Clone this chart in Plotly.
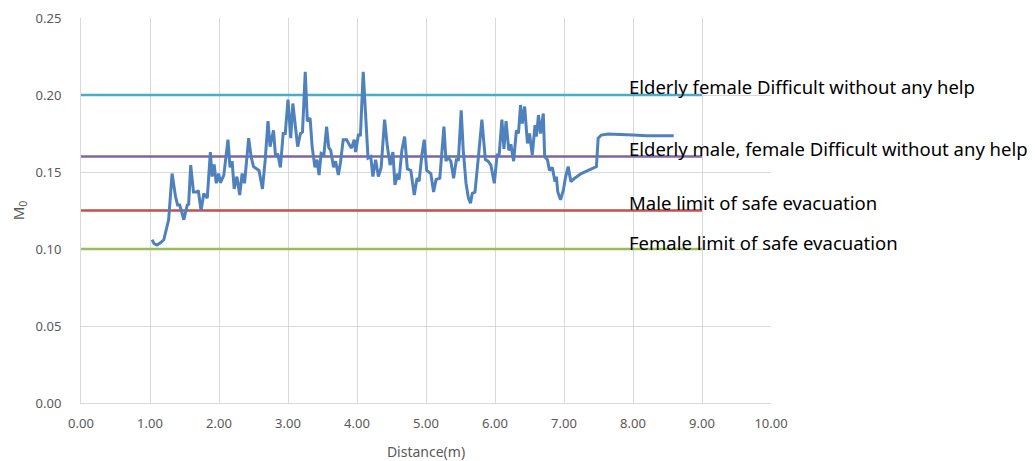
import plotly.graph_objects as go

distance = [1.03, 1.06, 1.10, 1.15, 1.20, 1.27, 1.32, 1.37, 1.40, 1.43, 1.46, 1.49, 1.54, 1.56, 1.59,
            1.63, 1.68, 1.70, 1.74, 1.78, 1.83, 1.875, 1.90, 1.93, 1.96, 1.995, 2.02, 2.07, 2.13, 2.16,
            2.19, 2.22, 2.26, 2.30, 2.335, 2.37, 2.43, 2.465, 2.50, 2.58, 2.63, 2.67, 2.71, 2.74, 2.79,
            2.82, 2.85, 2.89, 2.93, 2.96, 3.00, 3.04, 3.07, 3.11, 3.14, 3.18, 3.21, 3.25, 3.28, 3.32,
            3.35, 3.39, 3.42, 3.45, 3.48, 3.52, 3.56, 3.59, 3.62, 3.66, 3.69, 3.73, 3.76, 3.80, 3.85,
            3.89, 3.92, 3.96, 3.98, 4.02, 4.05, 4.09, 4.13, 4.16, 4.20, 4.23, 4.27, 4.31, 4.35, 4.40,
            4.44, 4.48, 4.52, 4.55, 4.59, 4.61, 4.65, 4.69, 4.73, 4.78, 4.83, 4.87, 4.90, 4.94, 4.975,
            5.01, 5.07, 5.11, 5.145, 5.20, 5.26, 5.29, 5.31, 5.36, 5.40, 5.44, 5.47, 5.51, 5.54, 5.58,
            5.615, 5.645, 5.67, 5.71, 5.76, 5.81, 5.86, 5.90, 5.94, 5.99, 6.03, 6.06, 6.10, 6.13, 6.16,
            6.20, 6.23, 6.27, 6.31, 6.34, 6.37, 6.395, 6.43, 6.47, 6.50, 6.54, 6.58, 6.60, 6.63, 6.66,
            6.70, 6.72, 6.76, 6.79, 6.83, 6.87, 6.89, 6.91, 6.95, 6.99, 7.02, 7.06, 7.10, 7.155, 7.25,
            7.35, 7.47, 7.495, 7.54, 7.64, 7.80, 8.00, 8.20, 8.40, 8.59]
m0 = [0.106, 0.1035, 0.1026, 0.104, 0.106, 0.119, 0.149, 0.134, 0.1286, 0.1286, 0.124, 0.119, 0.1286, 0.129, 0.1545,
      0.137, 0.137, 0.138, 0.125, 0.136, 0.133, 0.163, 0.147, 0.155, 0.1427, 0.149, 0.143, 0.148, 0.171, 0.153,
      0.157, 0.139, 0.147, 0.135, 0.149, 0.1427, 0.172, 0.160, 0.1535, 0.151, 0.139, 0.158, 0.183, 0.1665, 0.177,
      0.160, 0.162, 0.153, 0.175, 0.175, 0.197, 0.172, 0.1945, 0.1795, 0.1665, 0.175, 0.176, 0.215, 0.183, 0.185,
      0.1665, 0.153, 0.158, 0.148, 0.162, 0.161, 0.1795, 0.166, 0.164, 0.153, 0.157, 0.148, 0.156, 0.171, 0.171,
      0.1675, 0.1655, 0.171, 0.163, 0.174, 0.174, 0.215, 0.187, 0.159, 0.160, 0.147, 0.158, 0.147, 0.153, 0.184,
      0.1665, 0.1545, 0.163, 0.1416, 0.149, 0.145, 0.164, 0.173, 0.152, 0.151, 0.135, 0.146, 0.144, 0.161, 0.171,
      0.151, 0.149, 0.137, 0.145, 0.146, 0.1795, 0.157, 0.160, 0.157, 0.146, 0.158, 0.158, 0.190, 0.164, 0.1427,
      0.133, 0.1297, 0.136, 0.137, 0.160, 0.184, 0.158, 0.157, 0.1545, 0.1427, 0.161, 0.161, 0.184, 0.165, 0.183,
      0.164, 0.168, 0.157, 0.177, 0.175, 0.1935, 0.1815, 0.1925, 0.1685, 0.175, 0.161, 0.1805, 0.173, 0.187, 0.175,
      0.188, 0.160, 0.158, 0.151, 0.153, 0.1437, 0.147, 0.137, 0.132, 0.138, 0.146, 0.1535, 0.1437, 0.146, 0.149,
      0.151, 0.1535, 0.172, 0.174, 0.1747, 0.1745, 0.174, 0.1735, 0.1735, 0.1735]

limit_labels = ["Elderly female Difficult without any help",
                "Elderly male, female Difficult without any help",
                "Male limit of safe evacuation",
                "Female limit of safe evacuation"]
limit_values = [0.20, 0.16, 0.125, 0.10]
limit_x = [0, 9]
limit_colors = ["#4bacc6", "#8064a2", "#c0504d", "#9bbb59"]
label_y = [0.2055, 0.1655, 0.1305, 0.104]
label_x = 7.92

FONT = "Noto Sans"
fig = go.Figure()

for val, col in zip(limit_values, limit_colors):
    fig.add_trace(go.Scatter(x=limit_x, y=[val, val], mode="lines",
                             line=dict(color=col, width=2.5), showlegend=False, hoverinfo="skip"))

fig.add_trace(go.Scatter(x=distance, y=m0, mode="lines",
                         line=dict(color="#4f81bd", width=3), showlegend=False))

for txt, yy in zip(limit_labels, label_y):
    fig.add_annotation(x=label_x, y=yy, xref="x", yref="y", text=txt, showarrow=False,
                       xanchor="left", yanchor="middle",
                       font=dict(family=FONT, size=18.5, color="#000000"))

fig.update_layout(
    width=1027, height=453,
    margin=dict(l=73, r=264, t=10, b=58, autoexpand=False),
    paper_bgcolor="white", plot_bgcolor="white",
    font=dict(family=FONT, color="#595959", size=13),
    xaxis=dict(range=[0, 10], tickmode="linear", tick0=0, dtick=1, tickformat=".2f",
               showgrid=True, gridcolor="#d9d9d9", gridwidth=1, zeroline=False,
               showline=True, linecolor="#d9d9d9", linewidth=1,
               ticks="", ticklabelstandoff=8, tickfont=dict(size=13, color="#595959"),
               title=dict(text="Distance(m)", font=dict(size=14, color="#595959"), standoff=16)),
    yaxis=dict(range=[0, 0.25], tickmode="linear", tick0=0, dtick=0.05, tickformat=".2f",
               showgrid=True, gridcolor="#d9d9d9", gridwidth=1, zeroline=False,
               showline=True, linecolor="#d9d9d9", linewidth=1,
               ticks="", ticklabelstandoff=16, tickfont=dict(size=13, color="#595959"),
               title=dict(text="M<sub>0</sub>", font=dict(size=15, color="#595959"), standoff=10)),
)

fig.write_html("out.html")
